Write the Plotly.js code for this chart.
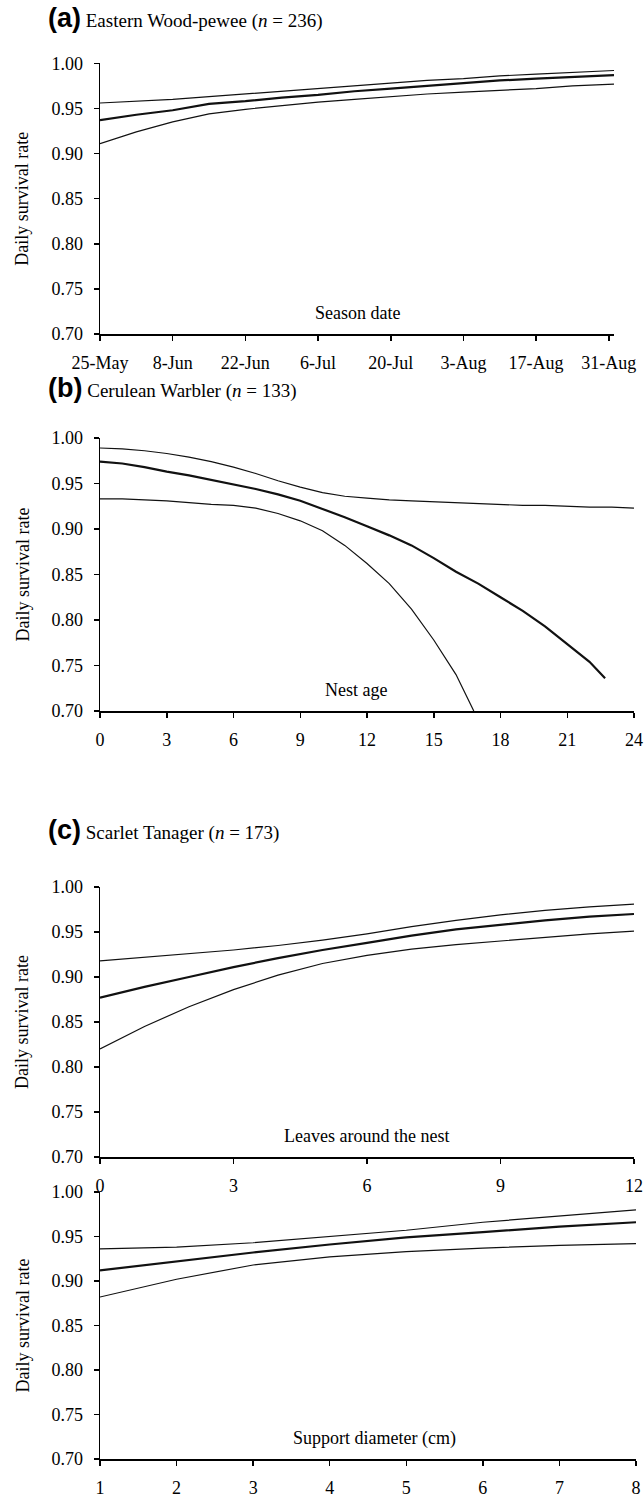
<!DOCTYPE html>
<html>
<head>
<meta charset="utf-8">
<script src="https://cdn.plot.ly/plotly-3.0.1.min.js"></script>
<style>html,body{margin:0;padding:0;background:#fff;}#chart{width:644px;height:1498px;}</style>
</head>
<body>
<div id="chart"></div>
<script>
// ---------- DATA ----------
// (a) Eastern Wood-pewee: daily survival vs season date
const aDates = ["2008-05-25","2008-06-01","2008-06-08","2008-06-15","2008-06-22","2008-06-29","2008-07-06","2008-07-13","2008-07-20","2008-07-27","2008-08-03","2008-08-10","2008-08-17","2008-08-24","2008-08-31","2008-09-01"];
const aUpper = [0.956,0.958,0.960,0.963,0.966,0.969,0.972,0.975,0.978,0.981,0.983,0.986,0.988,0.990,0.992,0.992];
const aMid   = [0.937,0.943,0.948,0.955,0.958,0.962,0.965,0.969,0.972,0.975,0.978,0.981,0.983,0.985,0.987,0.987];
const aLower = [0.911,0.924,0.935,0.944,0.949,0.953,0.957,0.960,0.963,0.966,0.968,0.970,0.972,0.975,0.977,0.977];
const aTickVals = ["2008-05-25","2008-06-08","2008-06-22","2008-07-06","2008-07-20","2008-08-03","2008-08-17","2008-08-31"];
const aTickText = ["25-May","8-Jun","22-Jun","6-Jul","20-Jul","3-Aug","17-Aug","31-Aug"];

// (b) Cerulean Warbler: daily survival vs nest age
const bAgeUpper = [0,1,2,3,4,5,6,7,8,9,10,11,12,13,14,15,16,17,18,19,20,21,22,23,24];
const bUpper = [0.989,0.988,0.986,0.983,0.979,0.974,0.968,0.961,0.953,0.946,0.940,0.936,0.934,0.932,0.931,0.930,0.929,0.928,0.927,0.926,0.926,0.925,0.924,0.924,0.923];
const bAgeMid = [0,1,2,3,4,5,6,7,8,9,10,11,12,13,14,15,16,17,18,19,20,21,22,22.7];
const bMid = [0.974,0.972,0.968,0.963,0.959,0.954,0.949,0.944,0.938,0.931,0.922,0.913,0.903,0.893,0.882,0.868,0.853,0.840,0.825,0.810,0.793,0.774,0.754,0.736];
const bAgeLower = [0,1,2,3,4,5,6,7,8,9,10,11,12,13,14,15,16,16.8];
const bLower = [0.933,0.933,0.932,0.931,0.929,0.927,0.926,0.923,0.917,0.909,0.898,0.882,0.862,0.840,0.812,0.778,0.740,0.700];

// (c) Scarlet Tanager: daily survival vs leaves around the nest
const cLeaves = [0,1,2,3,4,5,6,7,8,9,10,11,12];
const cUpper = [0.918,0.922,0.926,0.930,0.935,0.941,0.948,0.956,0.963,0.969,0.974,0.978,0.981];
const cMid   = [0.877,0.889,0.900,0.911,0.921,0.930,0.938,0.946,0.953,0.958,0.963,0.967,0.970];
const cLower = [0.820,0.845,0.867,0.886,0.902,0.915,0.924,0.931,0.936,0.940,0.944,0.948,0.951];

// (d) Scarlet Tanager: daily survival vs support diameter (cm)
const dDiam = [1,2,3,4,5,6,7,8];
const dUpper = [0.936,0.938,0.943,0.950,0.957,0.966,0.973,0.980];
const dMid   = [0.912,0.922,0.932,0.941,0.949,0.955,0.961,0.966];
const dLower = [0.882,0.902,0.918,0.927,0.933,0.937,0.940,0.942];

const yTickVals = [0.70,0.75,0.80,0.85,0.90,0.95,1.00];

// ---------- LAYOUT HELPERS ----------
const W = 644, H = 1498;
const PX = x => x / W;
const PY = y => 1 - y / H;
const SERIF = "'Liberation Serif', 'Times New Roman', Times, serif";

const thin = {color:"#111", width:1.2};
const thick = {color:"#111", width:2.2};

function tr(x, y, line, k) {
  return {x:x, y:y, mode:"lines", line:line, xaxis:"x"+(k===1?"":k), yaxis:"y"+(k===1?"":k), hoverinfo:"skip", showlegend:false};
}

const data = [
  tr(aDates, aUpper, thin, 1), tr(aDates, aMid, thick, 1), tr(aDates, aLower, thin, 1),
  tr(bAgeUpper, bUpper, thin, 2), tr(bAgeMid, bMid, thick, 2), tr(bAgeLower, bLower, thin, 2),
  tr(cLeaves, cUpper, thin, 3), tr(cLeaves, cMid, thick, 3), tr(cLeaves, cLower, thin, 3),
  tr(dDiam, dUpper, thin, 4), tr(dDiam, dMid, thick, 4), tr(dDiam, dLower, thin, 4)
];

// panel pixel geometry: [top(1.00), bottom(0.70), left, right]
const P = [
  [63.3, 334, 100, 614],
  [438, 711, 100, 634],
  [887, 1157, 100, 634],
  [1192, 1459, 100, 636]
];

const tickFont = {family:SERIF, size:18, color:"#000"};

function yax(i) {
  return {domain:[PY(P[i][1]), PY(P[i][0])], range:[0.70,1.00], tickvals:yTickVals, tickformat:".2f",
    showline:true, linecolor:"#000", linewidth:1.5, ticks:"outside", ticklen:5, tickwidth:1.5, tickcolor:"#000",
    showgrid:false, zeroline:false, tickfont:tickFont, ticklabelstandoff:7, anchor:"x"+(i===0?"":i+1), fixedrange:true};
}
function xax(i, extra) {
  return Object.assign({domain:[PX(P[i][2]), PX(P[i][3])],
    showline:true, linecolor:"#000", linewidth:1.5, ticks:"outside", ticklen:5, tickwidth:1.5, tickcolor:"#000",
    showgrid:false, zeroline:false, tickfont:tickFont, ticklabelstandoff:7, ticklabeloverflow:"allow",
    anchor:"y"+(i===0?"":i+1), fixedrange:true}, extra);
}

const layout = {
  width:W, height:H, margin:{l:0,r:0,t:0,b:0}, paper_bgcolor:"#fff", plot_bgcolor:"#fff", showlegend:false,
  font:{family:SERIF, size:17, color:"#000"},
  xaxis: xax(0, {type:"date", range:["2008-05-25","2008-09-01"], tickvals:aTickVals, ticktext:aTickText}),
  yaxis: yax(0),
  xaxis2: xax(1, {range:[0,24], tickvals:[0,3,6,9,12,15,18,21,24]}),
  yaxis2: yax(1),
  xaxis3: xax(2, {range:[0,12], tickvals:[0,3,6,9,12]}),
  yaxis3: yax(2),
  xaxis4: xax(3, {range:[1,8], tickvals:[1,2,3,4,5,6,7,8]}),
  yaxis4: yax(3),
  annotations: []
};

function head(letter, name, n) {
  return '<span style="font-family:\'Liberation Sans\', Arial, sans-serif;font-size:27px;font-weight:bold">(' + letter + ')</span>' +
         ' ' + name + ' (<i>n</i> = ' + n + ')';
}
const titles = [
  [head("a","Eastern Wood-pewee",236), 18],
  [head("b","Cerulean Warbler",133), 388],
  [head("c","Scarlet Tanager",173), 830]
];
titles.forEach(t => layout.annotations.push({text:t[0], xref:"paper", yref:"paper", x:PX(46), y:PY(t[1]),
  xanchor:"left", yanchor:"middle", showarrow:false, font:{family:SERIF, size:19, color:"#000"}}));

const xlabels = ["Season date","Nest age","Leaves around the nest","Support diameter (cm)"];
const xlabelCx = [357, 356, 366, 374];
xlabels.forEach((t,i) => {
  layout.annotations.push({text:t, xref:"paper", yref:"paper", x:PX(xlabelCx[i]), y:PY(P[i][1]-21),
    xanchor:"center", yanchor:"middle", showarrow:false, font:{family:SERIF, size:18, color:"#000"}});
  layout.annotations.push({text:"Daily survival rate", xref:"paper", yref:"paper", x:PX(22), y:PY((P[i][0]+P[i][1])/2),
    xanchor:"center", yanchor:"middle", textangle:-90, showarrow:false, font:{family:SERIF, size:18, color:"#000"}});
});

Plotly.newPlot("chart", data, layout, {staticPlot:true, displayModeBar:false});
</script>
</body>
</html>
